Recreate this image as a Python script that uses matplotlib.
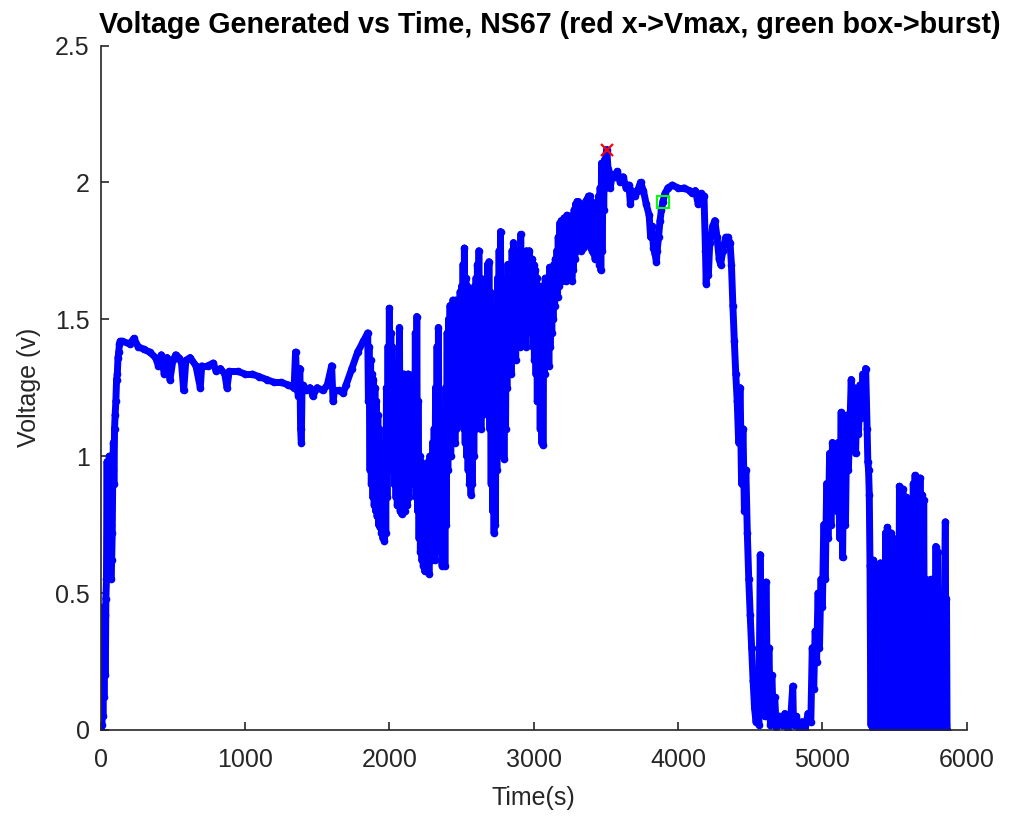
import matplotlib
matplotlib.use("Agg")
import matplotlib.pyplot as plt
from matplotlib.collections import LineCollection

plt.rcParams['font.family'] = ['Liberation Sans', 'DejaVu Sans']
plt.rcParams['path.simplify'] = False

# ---- data (time in s, voltage in V) ----
# start-up and slow plateau
early_time = [
    0, 4, 8, 12, 16, 20, 24, 28, 32, 36, 40, 44, 48, 52, 56, 60, 64, 68, 72, 76, 80, 84, 88, 92, 96,
    100, 105, 110, 115, 120, 125, 130, 135,
    150, 200, 230, 260, 300, 340, 380, 400, 420, 440, 460, 480, 500, 520, 540, 560, 575, 590, 620, 660,
    690, 700, 740, 780, 800, 830, 860, 875, 890, 950, 1000, 1050, 1100, 1150, 1200, 1250, 1300, 1340,
    1350, 1360, 1370, 1380, 1385, 1390, 1395, 1400, 1420, 1450, 1470, 1500, 1540, 1570, 1600, 1610,
    1620, 1650, 1680, 1700, 1740, 1780, 1820,
]
early_volt = [
    0.0, 0.25, 0.02, 0.38, 0.05, 0.45, 0.12, 0.42, 0.20, 0.48, 0.55, 0.98, 0.60, 0.90, 0.62, 1.00, 0.70,
    0.75, 0.55, 0.62, 0.72, 0.95, 1.05, 0.90, 1.10,
    1.15, 1.20, 1.28, 1.30, 1.36, 1.38, 1.41, 1.42,
    1.42, 1.41, 1.43, 1.40, 1.39, 1.38, 1.36, 1.33, 1.37, 1.30, 1.36, 1.28, 1.35, 1.37, 1.36, 1.34, 1.24,
    1.35, 1.36, 1.33, 1.25, 1.33, 1.33, 1.34, 1.31, 1.32, 1.30, 1.25, 1.31, 1.31, 1.30, 1.30, 1.29, 1.28,
    1.27, 1.27, 1.26, 1.25, 1.38, 1.25, 1.22, 1.32, 1.10, 1.05, 1.25, 1.26, 1.24, 1.25, 1.22, 1.25, 1.24,
    1.26, 1.33, 1.20, 1.24, 1.24, 1.23, 1.26, 1.32, 1.38, 1.42,
]

# fast oscillation zone: per 10 s block, the high and the low reading
osc_time = [
    1850, 1860, 1870, 1880, 1890, 1900, 1910, 1920, 1930, 1940, 1950, 1960, 1970, 1980, 1990,
    2000, 2010, 2020, 2030, 2040, 2050, 2060, 2070, 2080, 2090, 2100, 2110, 2120, 2130, 2140,
    2150, 2160, 2170, 2180, 2190, 2200, 2210, 2220, 2230, 2240, 2250, 2260, 2270, 2280, 2290,
    2300, 2310, 2320, 2330, 2340, 2350, 2360, 2370, 2380, 2390, 2400, 2410, 2420, 2430, 2440,
    2450, 2460, 2470, 2480, 2490, 2500, 2510, 2520, 2530, 2540, 2550, 2560, 2570, 2580, 2590,
    2600, 2610, 2620, 2630, 2640, 2650, 2660, 2670, 2680, 2690, 2700, 2710, 2720, 2730, 2740,
    2750, 2760, 2770, 2780, 2790, 2800, 2810, 2820, 2830, 2840, 2850, 2860, 2870, 2880, 2890,
    2900, 2910, 2920, 2930, 2940, 2950, 2960, 2970, 2980, 2990, 3000, 3010, 3020, 3030, 3040,
    3050, 3060, 3070, 3080, 3090, 3100, 3110, 3120, 3130, 3140, 3150, 3160, 3170, 3180, 3190,
    3200, 3210, 3220, 3230, 3240, 3250, 3260, 3270, 3280, 3290, 3300, 3310, 3320, 3330, 3340,
    3350, 3360, 3370, 3380, 3390, 3400, 3410, 3420, 3430, 3440, 3450, 3460, 3470, 3480, 3490,
]
osc_high = [
    1.45, 1.40, 1.35, 1.30, 1.28, 1.25, 1.20, 1.15, 1.10, 1.05, 1.00, 0.95, 1.00, 1.25, 1.40,
    1.54, 1.45, 1.40, 1.30, 1.25, 1.20, 1.35, 1.47, 1.30, 1.25, 1.30, 1.28, 1.25, 1.30, 1.25,
    1.20, 1.15, 1.30, 1.45, 1.51, 1.20, 1.00, 0.98, 0.97, 0.95, 0.96, 0.95, 0.98, 1.00, 0.95,
    1.05, 1.10, 1.25, 1.40, 1.47, 1.15, 1.10, 1.15, 1.11, 1.25, 1.45, 1.50, 1.55, 1.50, 1.57,
    1.52, 1.57, 1.50, 1.55, 1.60, 1.62, 1.70, 1.76, 1.65, 1.62, 1.60, 1.58, 1.55, 1.60, 1.62,
    1.65, 1.70, 1.75, 1.65, 1.60, 1.62, 1.60, 1.65, 1.70, 1.71, 1.60, 1.55, 1.50, 1.45, 1.50,
    1.65, 1.75, 1.82, 1.65, 1.60, 1.55, 1.60, 1.70, 1.65, 1.70, 1.75, 1.78, 1.70, 1.72, 1.65,
    1.75, 1.81, 1.75, 1.70, 1.72, 1.75, 1.73, 1.75, 1.70, 1.72, 1.70, 1.68, 1.65, 1.60, 1.62,
    1.60, 1.62, 1.62, 1.65, 1.60, 1.65, 1.69, 1.65, 1.68, 1.70, 1.72, 1.75, 1.80, 1.85, 1.86,
    1.85, 1.87, 1.86, 1.88, 1.86, 1.87, 1.85, 1.88, 1.90, 1.92, 1.93, 1.93, 1.91, 1.92, 1.90,
    1.92, 1.93, 1.94, 1.95, 1.95, 1.93, 1.90, 1.92, 1.90, 1.93, 1.95, 1.98, 2.07, 2.05, 2.08,
]
osc_low = [
    1.20, 0.95, 0.90, 0.85, 0.82, 0.80, 0.78, 0.75, 0.74, 0.72, 0.70, 0.69, 0.72, 0.85, 0.95,
    1.05, 1.00, 0.95, 0.90, 0.85, 0.82, 0.85, 0.80, 0.79, 0.85, 0.80, 0.85, 0.82, 0.85, 0.90,
    0.95, 0.92, 0.90, 0.85, 0.80, 0.70, 0.65, 0.62, 0.60, 0.58, 0.60, 0.62, 0.57, 0.65, 0.62,
    0.68, 0.62, 0.70, 0.75, 0.70, 0.65, 0.60, 0.65, 0.60, 0.75, 0.95, 1.05, 1.00, 1.06, 1.10,
    1.05, 1.10, 1.12, 1.15, 1.20, 1.15, 1.10, 1.05, 1.00, 0.95, 0.90, 0.86, 0.90, 1.00, 1.10,
    1.15, 1.20, 1.15, 1.10, 1.15, 1.20, 1.25, 1.20, 1.15, 1.10, 0.90, 0.80, 0.72, 0.75, 0.95,
    1.10, 1.20, 1.10, 1.00, 0.99, 1.10, 1.25, 1.30, 1.35, 1.30, 1.35, 1.40, 1.35, 1.40, 1.42,
    1.40, 1.45, 1.50, 1.45, 1.40, 1.45, 1.50, 1.48, 1.45, 1.40, 1.35, 1.30, 1.20, 1.20, 1.10,
    1.05, 1.04, 1.30, 1.45, 1.40, 1.33, 1.40, 1.45, 1.50, 1.55, 1.60, 1.58, 1.62, 1.65, 1.64,
    1.66, 1.65, 1.64, 1.68, 1.70, 1.66, 1.64, 1.68, 1.72, 1.75, 1.78, 1.76, 1.75, 1.78, 1.76,
    1.78, 1.80, 1.80, 1.78, 1.76, 1.75, 1.74, 1.72, 1.74, 1.72, 1.70, 1.68, 1.75, 1.90, 1.98,
]

# peak, second hump, collapse and late bursts
late_time = [
    3500, 3506,
    3515, 3530, 3545, 3560, 3580, 3600, 3620, 3640, 3660, 3670, 3680, 3700, 3720, 3740, 3760, 3780,
    3800, 3810, 3820, 3830, 3840, 3850, 3855, 3865, 3875, 3885, 3895, 3910, 3930, 3960, 4000, 4040,
    4080, 4100, 4120, 4140, 4160, 4180, 4190, 4195, 4200, 4210, 4220, 4240, 4255, 4270, 4285, 4295,
    4310, 4330, 4345, 4360, 4370,
    4380, 4390, 4400, 4410, 4420, 4430, 4440, 4450, 4460, 4470, 4480, 4490, 4500, 4510, 4520, 4530,
    4540, 4550, 4560, 4570, 4580, 4590, 4600, 4610, 4620, 4630, 4640, 4650, 4660, 4670, 4680, 4700,
    4720, 4740, 4760, 4780, 4795, 4800, 4820, 4840, 4860, 4880, 4900, 4920, 4930, 4940, 4950, 4960,
    4970, 4980, 4990, 5000,
    5010, 5020, 5030, 5040, 5050, 5060, 5070, 5080, 5090, 5100, 5110, 5120, 5130, 5140, 5150, 5160,
    5170, 5180, 5190, 5200, 5210, 5220, 5230, 5240, 5250, 5260, 5270, 5280, 5290, 5300, 5310, 5315,
    5320, 5325,
    5330, 5336, 5342, 5348, 5354, 5360, 5366, 5372, 5378, 5384, 5390, 5396, 5402, 5408, 5414, 5420,
    5426, 5432, 5438, 5444, 5450, 5456, 5462, 5468, 5474, 5480, 5486, 5492, 5498, 5504, 5510, 5516,
    5522, 5528, 5534, 5540, 5546, 5552, 5558, 5564, 5570, 5576, 5582, 5588, 5594, 5600, 5606, 5612,
    5618, 5624, 5630, 5636, 5642, 5648, 5654, 5660, 5666, 5672, 5678, 5684, 5690, 5696, 5702, 5708,
    5714, 5720, 5726, 5732, 5738, 5744, 5750, 5756, 5762, 5768, 5774, 5780, 5786, 5792, 5798, 5804,
    5810, 5816, 5822, 5828, 5834, 5840, 5846, 5852, 5856, 5860, 5864,
]
late_volt = [
    2.10, 2.12,
    2.05, 1.98, 2.03, 2.02, 2.04, 2.00, 2.02, 1.98, 1.99, 1.92, 1.97, 1.95, 1.97, 2.00, 1.97, 1.92,
    1.88, 1.80, 1.84, 1.76, 1.74, 1.71, 1.75, 1.80, 1.86, 1.90, 1.93, 1.96, 1.98, 1.99, 1.98, 1.98,
    1.97, 1.96, 1.97, 1.92, 1.96, 1.95, 1.75, 1.63, 1.70, 1.66, 1.78, 1.84, 1.86, 1.80, 1.72, 1.70,
    1.75, 1.80, 1.80, 1.78, 1.70,
    1.55, 1.42, 1.30, 1.20, 1.05, 1.25, 0.90, 1.10, 0.80, 0.95, 0.72, 0.55, 0.42, 0.30, 0.18, 0.08,
    0.03, 0.10, 0.02, 0.64, 0.10, 0.35, 0.05, 0.54, 0.08, 0.30, 0.02, 0.20, 0.05, 0.12, 0.01, 0.05,
    0.02, 0.06, 0.00, 0.04, 0.16, 0.02, 0.05, 0.00, 0.03, 0.00, 0.06, 0.03, 0.30, 0.15, 0.36, 0.25,
    0.50, 0.30, 0.55, 0.45,
    0.75, 0.55, 0.90, 0.70, 1.01, 0.75, 1.05, 0.85, 1.00, 0.80, 1.05, 0.70, 1.16, 0.63, 1.10, 0.75,
    1.15, 0.95, 1.10, 1.28, 1.05, 1.25, 1.01, 1.22, 1.08, 1.26, 1.14, 1.30, 1.15, 1.32, 1.10, 0.98,
    0.95, 0.86,
    0.60, 0.02, 0.55, 0.00, 0.62, 0.05, 0.58, 0.00, 0.60, 0.03, 0.56, 0.00, 0.61, 0.04, 0.52, 0.00,
    0.45, 0.02, 0.72, 0.00, 0.74, 0.05, 0.68, 0.00, 0.72, 0.06, 0.70, 0.00, 0.66, 0.04, 0.69, 0.00,
    0.67, 0.03, 0.89, 0.00, 0.85, 0.05, 0.88, 0.02, 0.82, 0.00, 0.85, 0.06, 0.84, 0.00, 0.80, 0.04,
    0.75, 0.00, 0.90, 0.03, 0.93, 0.00, 0.91, 0.05, 0.88, 0.00, 0.92, 0.04, 0.86, 0.00, 0.84, 0.03,
    0.55, 0.00, 0.52, 0.05, 0.50, 0.00, 0.55, 0.02, 0.48, 0.00, 0.45, 0.04, 0.67, 0.00, 0.65, 0.03,
    0.45, 0.00, 0.50, 0.04, 0.48, 0.00, 0.50, 0.76, 0.02, 0.48, 0.00,
]

vmax_time = [3506]
vmax_volt = [2.12]
burst_time = [3895]
burst_volt = [1.93]

x_ticks = [0, 1000, 2000, 3000, 4000, 5000, 6000]
y_ticks = [0, 0.5, 1, 1.5, 2, 2.5]
y_tick_labels = ['0', '0.5', '1', '1.5', '2', '2.5']

# ---- assemble the trace (high reading at block start, low reading half a block later) ----
trace_t = list(early_time)
trace_v = list(early_volt)
for t, hi, lo in zip(osc_time, osc_high, osc_low):
    trace_t += [t, t + 5]
    trace_v += [hi, lo]
trace_t += late_time
trace_v += late_volt

# ---- figure ----
fig = plt.figure(figsize=(10.13, 8.17), dpi=100)
ax = fig.add_axes([0.0994, 0.1065, 0.8549, 0.8378])

blue = '#0000FF'
# the dense oscillation zone is a solid band between its low and high readings
ax.fill_between(osc_time, osc_low, osc_high, step='post', color=blue, linewidth=0)
segments = [[(trace_t[i], trace_v[i]), (trace_t[i + 1], trace_v[i + 1])]
            for i in range(len(trace_t) - 1)]
ax.add_collection(LineCollection(segments, colors=blue, linewidths=5.0, capstyle='round'))
ax.plot(trace_t, trace_v, color=blue, linestyle='none',
        marker='o', markersize=5.5, markeredgewidth=0)
ax.plot(vmax_time, vmax_volt, linestyle='none', marker='x', color='#FF0000',
        markersize=8, markeredgewidth=1.6)
ax.plot(burst_time, burst_volt, linestyle='none', marker='s', markerfacecolor='none',
        markeredgecolor='#00FF00', markersize=9, markeredgewidth=1.5)

ax.set_xlim(0, 6000)
ax.set_ylim(0, 2.5)
ax.set_xticks(x_ticks)
ax.set_xticklabels([str(t) for t in x_ticks])
ax.set_yticks(y_ticks)
ax.set_yticklabels(y_tick_labels)

gray = '#262626'
for side in ['top', 'right']:
    ax.spines[side].set_visible(False)
for side in ['left', 'bottom']:
    ax.spines[side].set_color(gray)
    ax.spines[side].set_linewidth(1.2)
ax.tick_params(direction='in', length=6, width=1.2, colors=gray, labelsize=18)
ax.tick_params(axis='x', pad=13)
ax.tick_params(axis='y', pad=8)

ax.set_xlabel('Time(s)', fontsize=18, color=gray, labelpad=10)
ax.set_ylabel('Voltage (v)', fontsize=18, color=gray, labelpad=10)
ax.set_title('Voltage Generated vs Time, NS67 (red x->Vmax, green box->burst)',
             fontsize=20.6, fontweight='bold', color='black', pad=9, x=0.518)

fig.savefig('out.png', dpi=100)
